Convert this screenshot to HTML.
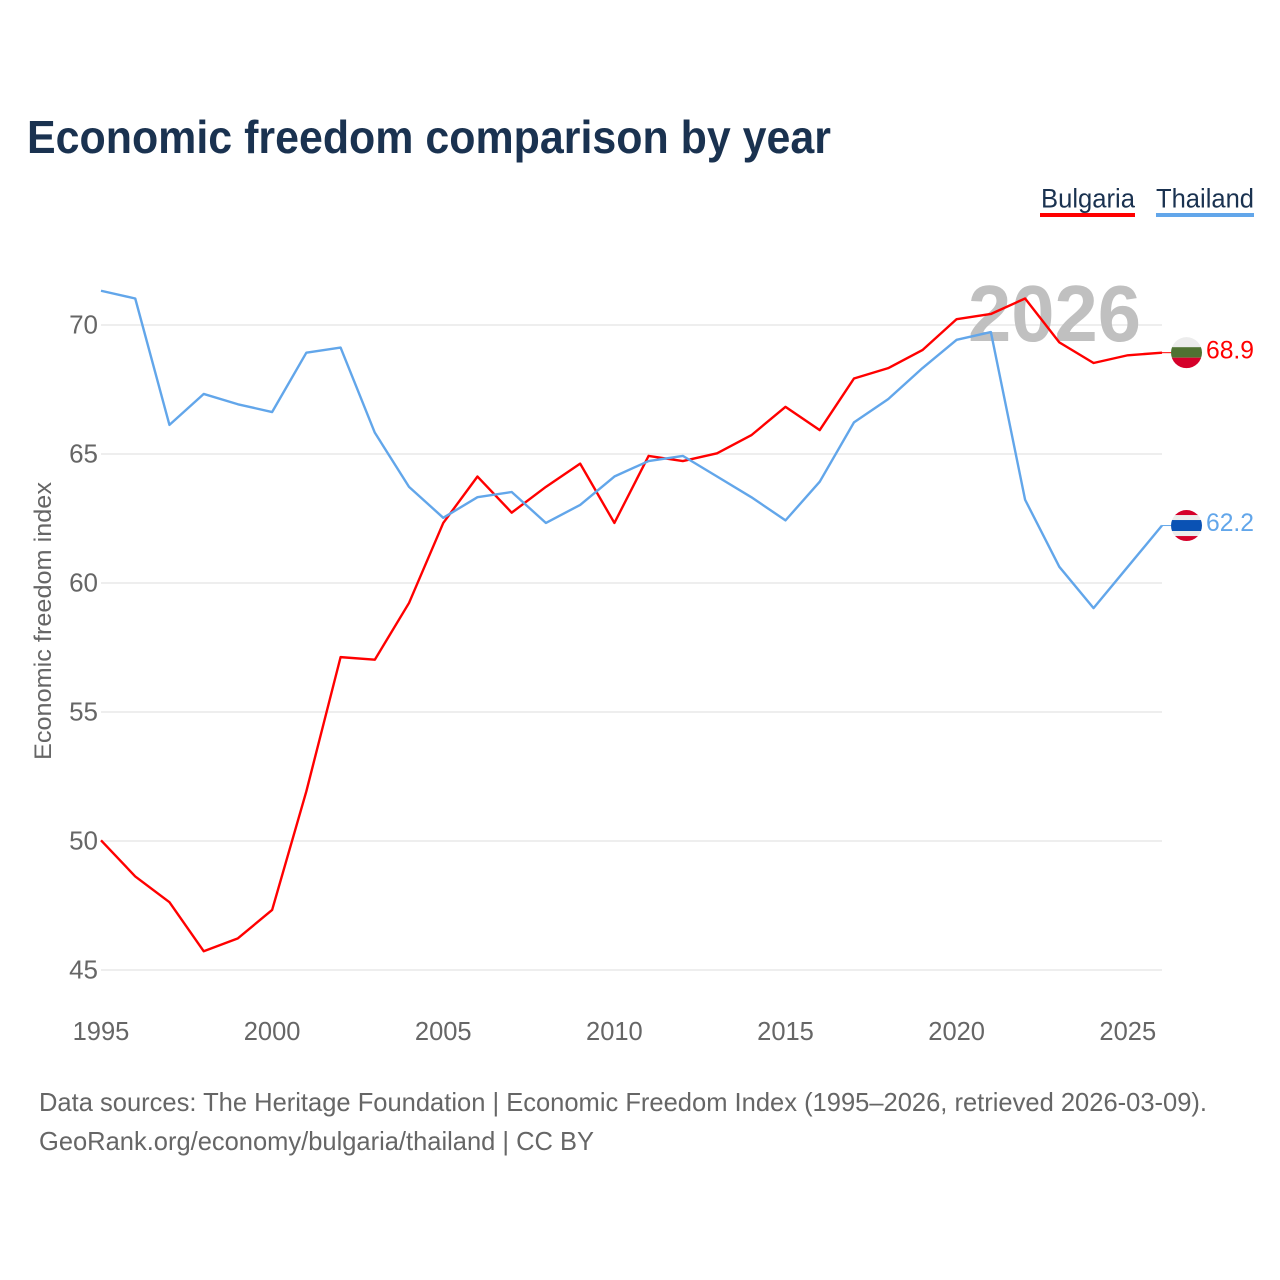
<!DOCTYPE html>
<html lang="en">
<head>
<meta charset="utf-8">
<title>Economic freedom comparison by year</title>
<style>
html,body{margin:0;padding:0;background:#fff;width:1280px;height:1280px;overflow:hidden}
svg{display:block}
text{font-family:"Liberation Sans",sans-serif}
</style>
</head>
<body>
<svg id="chart" xmlns="http://www.w3.org/2000/svg" width="1280" height="1280" viewBox="0 0 1280 1280">
  <rect x="0" y="0" width="1280" height="1280" fill="#fff"/>
  <text x="27" y="153" font-size="46" font-weight="700" fill="#1a3250" textLength="804" lengthAdjust="spacingAndGlyphs">Economic freedom comparison by year</text>
  <g>
    <text x="1041" y="207.5" font-size="27" fill="#1a3250" textLength="94" lengthAdjust="spacingAndGlyphs">Bulgaria</text>
    <rect x="1040" y="213" width="95" height="4" fill="#ff0000"/>
  </g>
  <g>
    <text x="1156" y="207.5" font-size="27" fill="#1a3250" textLength="98" lengthAdjust="spacingAndGlyphs">Thailand</text>
    <rect x="1156" y="213" width="98" height="4" fill="#62a6ea"/>
  </g>
  <text transform="translate(51,621) rotate(-90)" text-anchor="middle" font-size="24" fill="#666" textLength="278" lengthAdjust="spacingAndGlyphs">Economic freedom index</text>
  <g id="grid"></g>
  <g id="y-ticks"></g>
  <g id="x-ticks"></g>
  <text x="968" y="341" font-size="80" font-weight="700" fill="#c0c0c0" textLength="173" lengthAdjust="spacingAndGlyphs">2026</text>
  <g id="series" transform="translate(0,-0.7)"></g>
  <g id="ends" transform="translate(0,-0.7)"></g>
  <text x="39" y="1111" font-size="26" fill="#666" textLength="1168" lengthAdjust="spacingAndGlyphs">Data sources: The Heritage Foundation | Economic Freedom Index (1995–2026, retrieved 2026-03-09).</text>
  <text x="39" y="1150" font-size="26" fill="#666" textLength="555" lengthAdjust="spacingAndGlyphs">GeoRank.org/economy/bulgaria/thailand | CC BY</text>
</svg>
<script>
const years = [1995,1996,1997,1998,1999,2000,2001,2002,2003,2004,2005,2006,2007,2008,2009,2010,2011,2012,2013,2014,2015,2016,2017,2018,2019,2020,2021,2022,2023,2024,2025,2026];
const bulgaria = [50.0,48.6,47.6,45.7,46.2,47.3,51.9,57.1,57.0,59.2,62.3,64.1,62.7,63.7,64.6,62.3,64.9,64.7,65.0,65.7,66.8,65.9,67.9,68.3,69.0,70.2,70.4,71.0,69.3,68.5,68.8,68.9];
const thailand = [71.3,71.0,66.1,67.3,66.9,66.6,68.9,69.1,65.8,63.7,62.5,63.3,63.5,62.3,63.0,64.1,64.7,64.9,64.1,63.3,62.4,63.9,66.2,67.1,68.3,69.4,69.7,63.2,60.6,59.0,60.6,62.2];
const yTicks = [45,50,55,60,65,70];
const xTicks = [1995,2000,2005,2010,2015,2020,2025];

const NS = 'http://www.w3.org/2000/svg';
const plotLeft = 101, plotRight = 1162, y70 = 325, y45 = 970;
function xScale(year){ return plotLeft + (year - years[0]) * (plotRight - plotLeft) / (years[years.length-1] - years[0]); }
function yScale(v){ return y70 + (70 - v) * (y45 - y70) / 25; }
function mk(tag, attrs, parent, txt){
  const el = document.createElementNS(NS, tag);
  for (const k in attrs) el.setAttribute(k, attrs[k]);
  if (txt !== undefined) el.textContent = txt;
  parent.appendChild(el);
  return el;
}

const grid = document.getElementById('grid');
const yG = document.getElementById('y-ticks');
yTicks.forEach(function(t){
  const ln = mk('line', {x1:plotLeft, x2:plotRight, y1:yScale(t), y2:yScale(t), stroke:'#eeeeee', 'stroke-width':2}, grid);
  
  
  const lb = mk('text', {x:98, y:yScale(t)+8.5, 'text-anchor':'end', 'font-size':26, fill:'#666'}, yG, String(t));
  
  
});

const xG = document.getElementById('x-ticks');
xTicks.forEach(function(t){
  const lb = mk('text', {x:xScale(t), y:1040, 'text-anchor':'middle', 'font-size':25.5, fill:'#666'}, xG, String(t));
  
  
});

function linePath(vals){
  return vals.map(function(v,i){ return (i ? 'L' : 'M') + xScale(years[i]).toFixed(2) + ' ' + yScale(v).toFixed(2); }).join('');
}
const seriesG = document.getElementById('series');
const redLine = mk('path', {d:linePath(bulgaria), fill:'none', stroke:'#ff0000', 'stroke-width':2.4, 'stroke-linejoin':'round'}, seriesG);


const blueLine = mk('path', {d:linePath(thailand), fill:'none', stroke:'#62a6ea', 'stroke-width':2.4, 'stroke-linejoin':'round'}, seriesG);



const ends = document.getElementById('ends');
const defs = mk('defs', {}, ends);
const flagX = 1186.5, flagR = 15.5;

function band(group, cy, top, h, fill){
  return mk('rect', {x:flagX-flagR, y:cy+top, width:flagR*2, height:h, fill:fill}, group);
}

// Bulgaria end marker
const bgY = yScale(bulgaria[bulgaria.length-1]);
const bgClip = mk('clipPath', {id:'clip-bg'}, defs);
mk('circle', {cx:flagX, cy:bgY, r:flagR}, bgClip);
const bgConn = mk('line', {x1:plotRight, x2:flagX-flagR, y1:bgY, y2:bgY, stroke:'#ff0000', 'stroke-width':1}, ends);


const bgFlag = mk('g', {'clip-path':'url(#clip-bg)'}, ends);


band(bgFlag, bgY, -16, 10.5, '#ececec');
band(bgFlag, bgY, -5.5, 10.5, '#4f7232');
band(bgFlag, bgY, 5, 11, '#d5002a');
const bgLabel = mk('text', {x:1206, y:bgY+5.7, 'font-size':25, fill:'#ff0000', textLength:48, lengthAdjust:'spacingAndGlyphs'}, ends, bulgaria[bulgaria.length-1].toFixed(1));



// Thailand end marker
const thY = yScale(thailand[thailand.length-1]);
const thClip = mk('clipPath', {id:'clip-th'}, defs);
mk('circle', {cx:flagX, cy:thY, r:flagR}, thClip);
const thConn = mk('line', {x1:plotRight, x2:flagX-flagR, y1:thY, y2:thY, stroke:'#62a6ea', 'stroke-width':1}, ends);


const thFlag = mk('g', {'clip-path':'url(#clip-th)'}, ends);


band(thFlag, thY, -16, 6, '#d5002a');
band(thFlag, thY, -10.5, 5, '#ececec');
band(thFlag, thY, -5.5, 11, '#0a52b4');
band(thFlag, thY, 5.5, 5, '#ececec');
band(thFlag, thY, 10.5, 6, '#d5002a');
const thLabel = mk('text', {x:1206, y:thY+5.7, 'font-size':25, fill:'#62a6ea', textLength:48, lengthAdjust:'spacingAndGlyphs'}, ends, thailand[thailand.length-1].toFixed(1));


</script>
</body>
</html>
